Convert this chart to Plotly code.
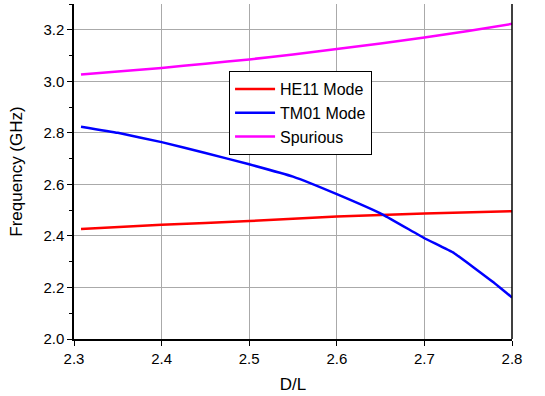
import plotly.graph_objects as go

x_spur = [2.308, 2.35, 2.4, 2.45, 2.5, 2.55, 2.6, 2.65, 2.7, 2.75, 2.8]
y_spur = [3.026, 3.038, 3.052, 3.068, 3.085, 3.104, 3.125, 3.147, 3.170, 3.195, 3.223]

x_tm = [2.308, 2.35, 2.4, 2.45, 2.5, 2.55, 2.6, 2.653, 2.7, 2.734, 2.778, 2.8]
y_tm = [2.824, 2.800, 2.764, 2.722, 2.678, 2.630, 2.562, 2.482, 2.391, 2.333, 2.222, 2.161]

x_he = [2.308, 2.4, 2.5, 2.6, 2.7, 2.8]
y_he = [2.427, 2.443, 2.458, 2.475, 2.487, 2.496]

fig = go.Figure()
fig.add_trace(go.Scatter(x=x_he, y=y_he, mode="lines", name="HE11 Mode",
                         line=dict(color="#ff0000", width=2.5, shape="spline", smoothing=0.3)))
fig.add_trace(go.Scatter(x=x_tm, y=y_tm, mode="lines", name="TM01 Mode",
                         line=dict(color="#0000ff", width=2.5, shape="spline", smoothing=0.3)))
fig.add_trace(go.Scatter(x=x_spur, y=y_spur, mode="lines", name="Spurious",
                         line=dict(color="#ff00ff", width=2.5, shape="spline", smoothing=0.3)))

font = "Liberation Sans, Arial, sans-serif"
fig.update_layout(
    width=545, height=396,
    margin=dict(l=74, r=33, t=4, b=57),
    paper_bgcolor="white", plot_bgcolor="white",
    font=dict(family=font, size=15, color="black"),
    legend=dict(x=0.354, y=0.80, xanchor="left", yanchor="top",
                bordercolor="black", borderwidth=1, bgcolor="white",
                font=dict(size=16), tracegroupgap=0, itemwidth=40),
    showlegend=True,
)
fig.update_xaxes(
    range=[2.3, 2.8], dtick=0.1, tick0=2.3, tickformat=".1f",
    showline=True, linecolor="black", linewidth=1.5, mirror=False,
    ticks="outside", ticklen=5, tickcolor="black",
    showgrid=True, gridcolor="#aaaaaa", gridwidth=1, zeroline=False,
    title=dict(text="D/L", font=dict(size=17), standoff=12),
)
fig.update_yaxes(
    range=[2.0, 3.3], dtick=0.2, tick0=2.0, tickformat=".1f",
    showline=True, linecolor="black", linewidth=1.5, mirror=False,
    ticks="outside", ticklen=5, tickcolor="black",
    minor=dict(ticks="outside", ticklen=3, dtick=0.1, tickcolor="black", showgrid=False),
    showgrid=True, gridcolor="#aaaaaa", gridwidth=1, zeroline=False,
    title=dict(text="Frequency (GHz)", font=dict(size=17), standoff=16),
)
# right border line
fig.add_shape(type="line", xref="paper", yref="paper", x0=1, x1=1, y0=0, y1=1,
              line=dict(color="black", width=1.5))

fig.write_html("out.html")
